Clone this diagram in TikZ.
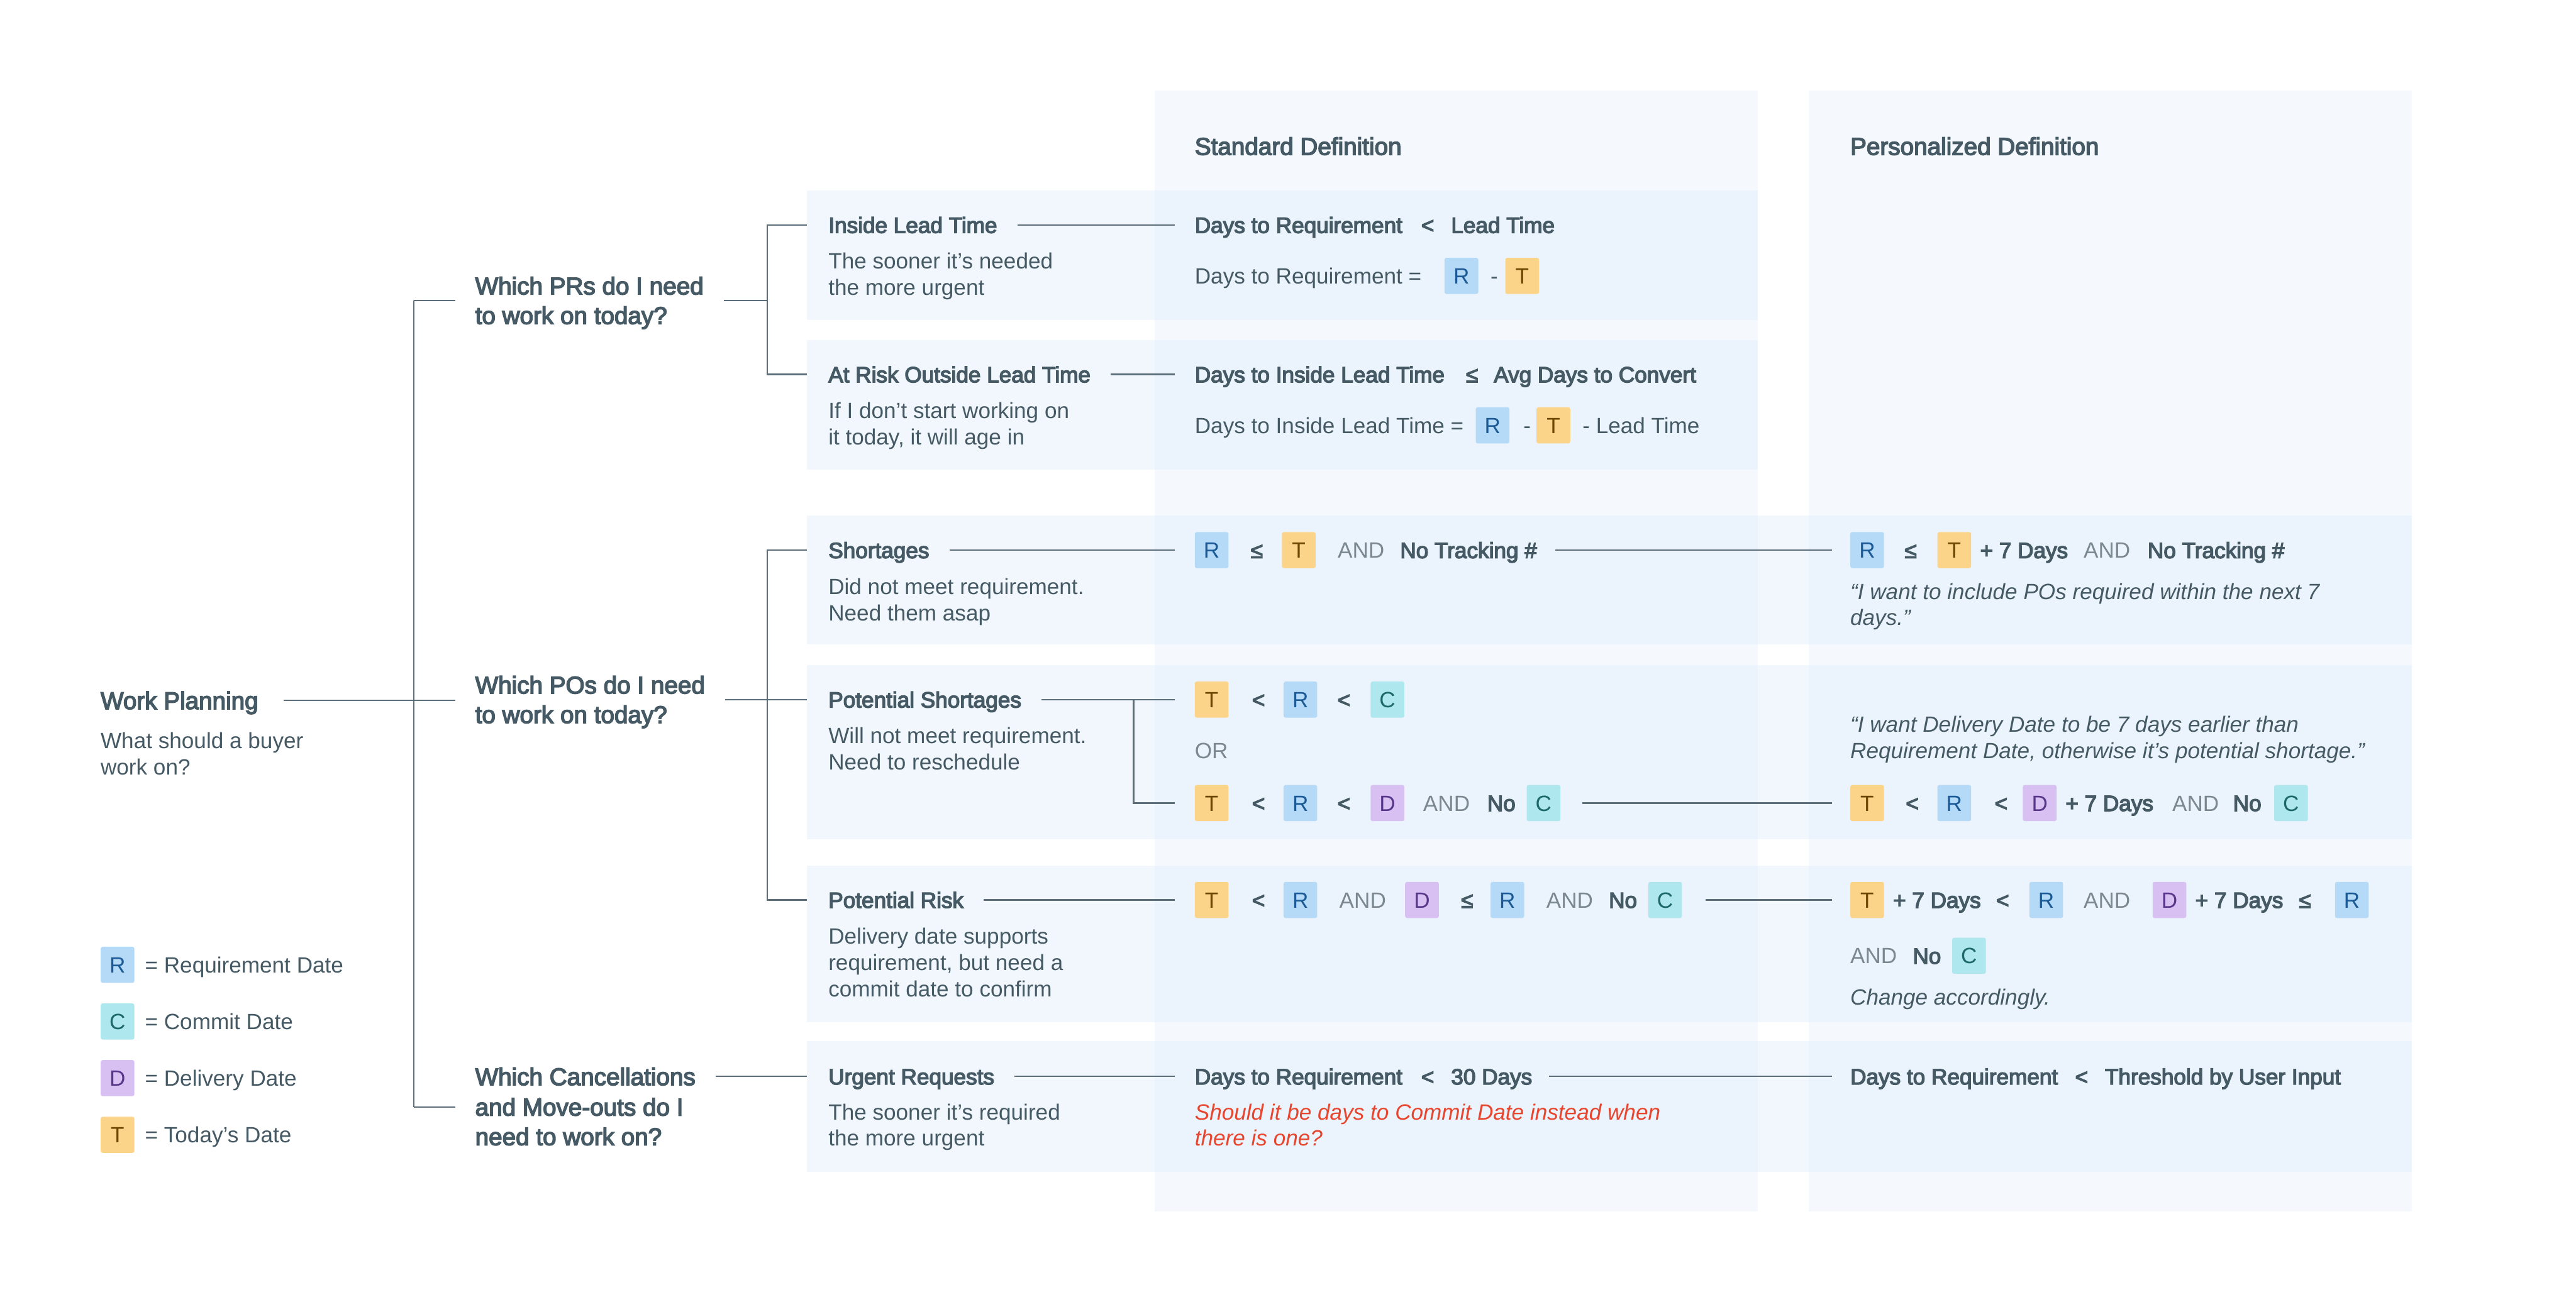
\documentclass[tikz,border=0pt]{standalone}
\usepackage{fontspec}
\setmainfont{Liberation Sans}
\newfontfamily\medfont[FakeBold=4]{Liberation Sans}
\usetikzlibrary{calc}

\definecolor{ink}{HTML}{455A64}
\definecolor{wire}{HTML}{5B6E79}
\definecolor{softink}{HTML}{7B8890}
\definecolor{alert}{HTML}{E8452E}
\definecolor{colbg}{HTML}{F5F9FD}
\definecolor{rowbg}{HTML}{F1F7FC}
\definecolor{crossbg}{HTML}{EBF4FC}
\definecolor{rfill}{HTML}{B5DAF8}\definecolor{rtext}{HTML}{1B5A94}
\definecolor{tfill}{HTML}{FCD489}\definecolor{ttext}{HTML}{6B4700}
\definecolor{cfill}{HTML}{AEE7EE}\definecolor{ctext}{HTML}{1D6868}
\definecolor{dfill}{HTML}{D8C0F3}\definecolor{dtext}{HTML}{583689}

\begin{document}
\begin{tikzpicture}[x=0.0261224cm,y=-0.0261224cm,
  reg/.style={anchor=west,inner sep=0pt,text=ink,font=\fontsize{10}{12}\selectfont,text height=7.2pt,text depth=0pt},
  med/.style={reg,font=\medfont\fontsize{10}{12}\selectfont},
  op/.style={med,anchor=center},
  big/.style={reg,font=\medfont\fontsize{11}{13}\selectfont,text height=7.9pt},
  andword/.style={reg,text=softink},
  quote/.style={reg,font=\itshape\fontsize{10}{12}\selectfont},
  redq/.style={quote,text=alert},
  chip/.style={anchor=west,inner sep=0pt,minimum width=0.536cm,minimum height=0.575cm,rounded corners=0.9pt,font=\fontsize{10}{12}\selectfont,text height=7.2pt,text depth=0pt},
  chipR/.style={chip,fill=rfill,text=rtext},
  chipT/.style={chip,fill=tfill,text=ttext},
  chipC/.style={chip,fill=cfill,text=ctext},
  chipD/.style={chip,fill=dfill,text=dtext},
  conn/.style={draw=wire,line width=0.65pt},
]
% canvas
\fill[white] (0,0) rectangle (1568,795.5);
\useasboundingbox (0,0) rectangle (1568,795.5);

% definition columns
\fill[colbg] (703,55) rectangle (1070,737.5);
\fill[colbg] (1101,55) rectangle (1468,737.5);

% row bands
\fill[rowbg] (491,116) rectangle (1070,195);
\fill[rowbg] (491,207) rectangle (1070,286);
\fill[rowbg] (491,314) rectangle (1468,392.5);
\fill[rowbg] (491,405) rectangle (1468,511);
\fill[rowbg] (491,527) rectangle (1468,622.5);
\fill[rowbg] (491,634) rectangle (1468,713.5);
% where bands cross the columns
\foreach \ya/\yb in {116/195,207/286,314/392.5,405/511,527/622.5,634/713.5}
  \fill[crossbg] (703,\ya) rectangle (1070,\yb);
\foreach \ya/\yb in {314/392.5,405/511,527/622.5,634/713.5}
  \fill[crossbg] (1101,\ya) rectangle (1468,\yb);

% column headers
\node[big] (stdhead) at (727,89) {Standard Definition};
\node[big] (perhead) at (1126,89) {Personalized Definition};

% root
\node[big] (wp) at (61,426.5) {Work Planning};
\node[reg] (wpa) at (61,451) {What should a buyer};
\node[reg] (wpb) at (61,467) {work on?};

% legend
\node[chipR] (kR) at (61,587.5) {R}; \node[reg] (kRt) at (88,587.5) {= Requirement Date};
\node[chipC] (kC) at (61,622) {C};   \node[reg] (kCt) at (88,622) {= Commit Date};
\node[chipD] (kD) at (61,656.5) {D}; \node[reg] (kDt) at (88,656.5) {= Delivery Date};
\node[chipT] (kT) at (61,691) {T};   \node[reg] (kTt) at (88,691) {= Today’s Date};

% questions
\node[big] (q1a) at (289,174) {Which PRs do I need};
\node[big] (q1b) at (289,192) {to work on today?};
\node[big] (q2a) at (289,417) {Which POs do I need};
\node[big] (q2b) at (289,435) {to work on today?};
\node[big] (q3a) at (289,655.5) {Which Cancellations};
\node[big] (q3b) at (289,674) {and Move-outs do I};
\node[big] (q3c) at (289,692) {need to work on?};

% categories
\node[med] (l1) at (504,137) {Inside Lead Time};
\node[reg] (l1a) at (504,159) {The sooner it’s needed};
\node[reg] (l1b) at (504,175) {the more urgent};
\node[med] (l2) at (504,228) {At Risk Outside Lead Time};
\node[reg] (l2a) at (504,250) {If I don’t start working on};
\node[reg] (l2b) at (504,266) {it today, it will age in};
\node[med] (l3) at (504,335) {Shortages};
\node[reg] (l3a) at (504,357) {Did not meet requirement.};
\node[reg] (l3b) at (504,373) {Need them asap};
\node[med] (l4) at (504,426) {Potential Shortages};
\node[reg] (l4a) at (504,448) {Will not meet requirement.};
\node[reg] (l4b) at (504,464) {Need to reschedule};
\node[med] (l5) at (504,548) {Potential Risk};
\node[reg] (l5a) at (504,570) {Delivery date supports};
\node[reg] (l5b) at (504,586) {requirement, but need a};
\node[reg] (l5c) at (504,602) {commit date to confirm};
\node[med] (l6) at (504,655.5) {Urgent Requests};
\node[reg] (l6a) at (504,677) {The sooner it’s required};
\node[reg] (l6b) at (504,693) {the more urgent};

% ---- standard definitions ----
% inside lead time
\node[med] (s1a) at (727,137) {Days to Requirement};
\node[op]  (s1b) at (869,137) {<};
\node[med] (s1c) at (883,137) {Lead Time};
\node[reg] (s1d) at (727,168) {Days to Requirement =};
\node[chipR] (s1R) at (879,168) {R};
\node[reg] (s1e) at (907,168) {-};
\node[chipT] (s1T) at (916,168) {T};
% at risk outside lead time
\node[med] (s2a) at (727,228) {Days to Inside Lead Time};
\node[op]  (s2b) at (896,228) {≤};
\node[med] (s2c) at (909,228) {Avg Days to Convert};
\node[reg] (s2d) at (727,259) {Days to Inside Lead Time =};
\node[chipR] (s2R) at (898,259) {R};
\node[reg] (s2e) at (927,259) {-};
\node[chipT] (s2T) at (935,259) {T};
\node[reg] (s2f) at (963,259) {- Lead Time};
% shortages
\node[chipR] (s3R) at (727,335) {R};
\node[op]  (s3b) at (765,335) {≤};
\node[chipT] (s3T) at (780,335) {T};
\node[andword] (s3c) at (814,335) {AND};
\node[med] (s3e) at (852,335) {No Tracking \#};
% potential shortages
\node[chipT] (s4T1) at (727,426) {T};
\node[op]  (s4a) at (766,426) {<};
\node[chipR] (s4R1) at (781,426) {R};
\node[op]  (s4b) at (818,426) {<};
\node[chipC] (s4C1) at (834,426) {C};
\node[andword] (s4or) at (727,457) {OR};
\node[chipT] (s4T2) at (727,489) {T};
\node[op]  (s4c) at (766,489) {<};
\node[chipR] (s4R2) at (781,489) {R};
\node[op]  (s4d) at (818,489) {<};
\node[chipD] (s4D) at (834,489) {D};
\node[andword] (s4e) at (866,489) {AND};
\node[med] (s4f) at (905,489) {No};
\node[chipC] (s4C2) at (929,489) {C};
% potential risk
\node[chipT] (s5T) at (727,548) {T};
\node[op]  (s5a) at (766,548) {<};
\node[chipR] (s5R1) at (781,548) {R};
\node[andword] (s5b) at (815,548) {AND};
\node[chipD] (s5D) at (855,548) {D};
\node[op]  (s5c) at (893,548) {≤};
\node[chipR] (s5R2) at (907,548) {R};
\node[andword] (s5d) at (941,548) {AND};
\node[med] (s5e) at (979,548) {No};
\node[chipC] (s5C) at (1003,548) {C};
% urgent requests
\node[med] (s6a) at (727,655.5) {Days to Requirement};
\node[op]  (s6b) at (869,655.5) {<};
\node[med] (s6c) at (883,655.5) {30 Days};
\node[redq] (s6d) at (727,677) {Should it be days to Commit Date instead when};
\node[redq] (s6e) at (727,693) {there is one?};

% ---- personalized definitions ----
\node[chipR] (p3R) at (1126,335) {R};
\node[op]  (p3a) at (1163,335) {≤};
\node[chipT] (p3T) at (1179,335) {T};
\node[med] (p3b) at (1205,335) {+ 7 Days};
\node[andword] (p3c) at (1268,335) {AND};
\node[med] (p3d) at (1307,335) {No Tracking \#};
\node[quote] (p3q1) at (1126,360) {“I want to include POs required within the next 7};
\node[quote] (p3q2) at (1126,376) {days.”};

\node[quote] (p4q1) at (1126,441) {“I want Delivery Date to be 7 days earlier than};
\node[quote] (p4q2) at (1126,457) {Requirement Date, otherwise it’s potential shortage.”};
\node[chipT] (p4T) at (1126,489) {T};
\node[op]  (p4a) at (1164,489) {<};
\node[chipR] (p4R) at (1179,489) {R};
\node[op]  (p4b) at (1218,489) {<};
\node[chipD] (p4D) at (1231,489) {D};
\node[med] (p4c) at (1257,489) {+ 7 Days};
\node[andword] (p4d) at (1322,489) {AND};
\node[med] (p4e) at (1359,489) {No};
\node[chipC] (p4C) at (1384,489) {C};

\node[chipT] (p5T) at (1126,548) {T};
\node[med] (p5a) at (1152,548) {+ 7 Days};
\node[op]  (p5b) at (1219,548) {<};
\node[chipR] (p5R1) at (1235,548) {R};
\node[andword] (p5c) at (1268,548) {AND};
\node[chipD] (p5D) at (1310,548) {D};
\node[med] (p5d) at (1336,548) {+ 7 Days};
\node[op]  (p5e) at (1403,548) {≤};
\node[chipR] (p5R2) at (1421,548) {R};
\node[andword] (p5f) at (1126,582) {AND};
\node[med] (p5g) at (1164,582) {No};
\node[chipC] (p5C) at (1188,582) {C};
\node[quote] (p5q) at (1126,607) {Change accordingly.};

\node[med] (p6a) at (1126,655.5) {Days to Requirement};
\node[op]  (p6b) at (1267,655.5) {<};
\node[med] (p6c) at (1281,655.5) {Threshold by User Input};

% ---- connectors ----
% root trunk
\coordinate (tk1) at (252,183);
\coordinate (tk2) at (252,426.5);
\coordinate (tk3) at (252,674);
\draw[conn] (tk1) -- (tk3);
\draw[conn] (tk1) -- ($(q1a.west |- tk1)+(-12,0)$);
\draw[conn] (tk3) -- ($(q3b.west)+(-12,0)$);
\draw[conn] ($(wp.east)+(15,0)$) -- ($(q2a.west |- tk2)+(-12,0)$);

% PR branch
\coordinate (jPR) at (467,183);
\draw[conn] ($(q1a.east |- jPR)+(12,0)$) -- (jPR);
\draw[conn] ($(l1.west)+(-13,0)$) -| (jPR) |- ($(l2.west)+(-13,0)$);

% PO branch
\coordinate (jPO) at (467,426);
\draw[conn] ($(q2a.east |- jPO)+(12,0)$) -- ($(l4.west)+(-13,0)$);
\draw[conn] ($(l3.west)+(-13,0)$) -| (jPO) |- ($(l5.west)+(-13,0)$);

% cancellations branch
\draw[conn] ($(q3a.east)+(12,0)$) -- ($(l6.west)+(-13,0)$);

% categories to standard definitions
\draw[conn] ($(l1.east)+(12,0)$) -- ($(s1a.west)+(-12,0)$);
\draw[conn] ($(l2.east)+(12,0)$) -- ($(s2a.west)+(-12,0)$);
\draw[conn] ($(l3.east)+(12,0)$) -- ($(s3R.west)+(-12,0)$);
\draw[conn] ($(l4.east)+(12,0)$) -- ($(s4T1.west)+(-12,0)$);
\coordinate (jPS) at ($(s4T1.west)+(-37,0)$);
\draw[conn] (jPS) |- ($(s4T2.west)+(-12,0)$);
\draw[conn] ($(l5.east)+(12,0)$) -- ($(s5T.west)+(-12,0)$);
\draw[conn] ($(l6.east)+(12,0)$) -- ($(s6a.west)+(-12,0)$);

% standard to personalized definitions
\draw[conn] ($(s3e.east)+(11,0)$) -- ($(p3R.west)+(-11,0)$);
\draw[conn] ($(s4C2.east)+(13,0)$) -- ($(p4T.west)+(-11,0)$);
\draw[conn] ($(s5C.east)+(14,0)$) -- ($(p5T.west)+(-11,0)$);
\draw[conn] ($(s6c.east)+(10,0)$) -- ($(p6a.west)+(-11,0)$);
\end{tikzpicture}
\end{document}
